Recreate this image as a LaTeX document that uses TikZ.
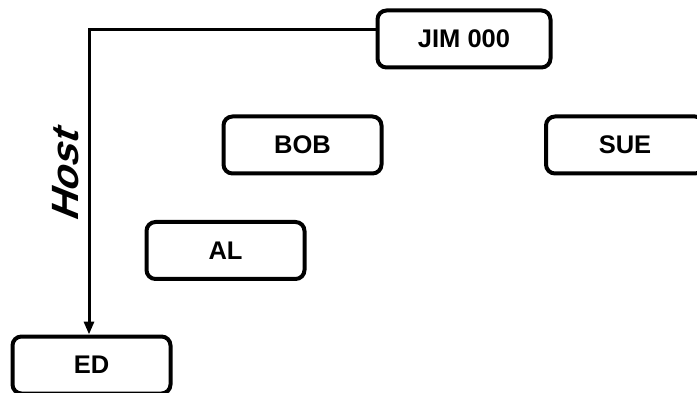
\documentclass[tikz,border=0pt]{standalone}
\usepackage{fontspec}
\setmainfont{Liberation Sans}
\newfontfamily\hostfont[FakeSlant=0.4,FakeStretch=1.07]{Liberation Sans}
\usetikzlibrary{arrows.meta,calc}
\begin{document}
\begin{tikzpicture}[x=1pt,y=1pt,
  box/.style={draw, line width=4pt, rounded corners=9pt, minimum height=57pt, inner sep=0pt,
    font=\fontsize{25.5pt}{30pt}\selectfont\bfseries},
  conn/.style={line width=3pt, -{Triangle[length=13pt,width=10pt]}}]
\clip (0,0) rectangle (697,-393);
\useasboundingbox (0,0) rectangle (697,-393);
\node[box, minimum width=173pt] (jim) at (464,-39) {JIM 000};
\node[box, minimum width=158pt] (bob) at (302.5,-145) {BOB};
\node[box, minimum width=158pt] (sue) at (625,-145) {SUE};
\node[box, minimum width=158pt] (al) at (225.5,-250.5) {AL};
\node[box, minimum width=158pt] (ed) at (91.5,-365) {ED};
\draw[conn] ([yshift=9pt]jim.west) -| ([xshift=-2.5pt]ed.north);
\node[rotate=90, inner sep=0pt, font=\fontsize{38pt}{40pt}\selectfont\hostfont\bfseries] (host) at (65.5,-177.5) {Host};
\end{tikzpicture}
\end{document}
